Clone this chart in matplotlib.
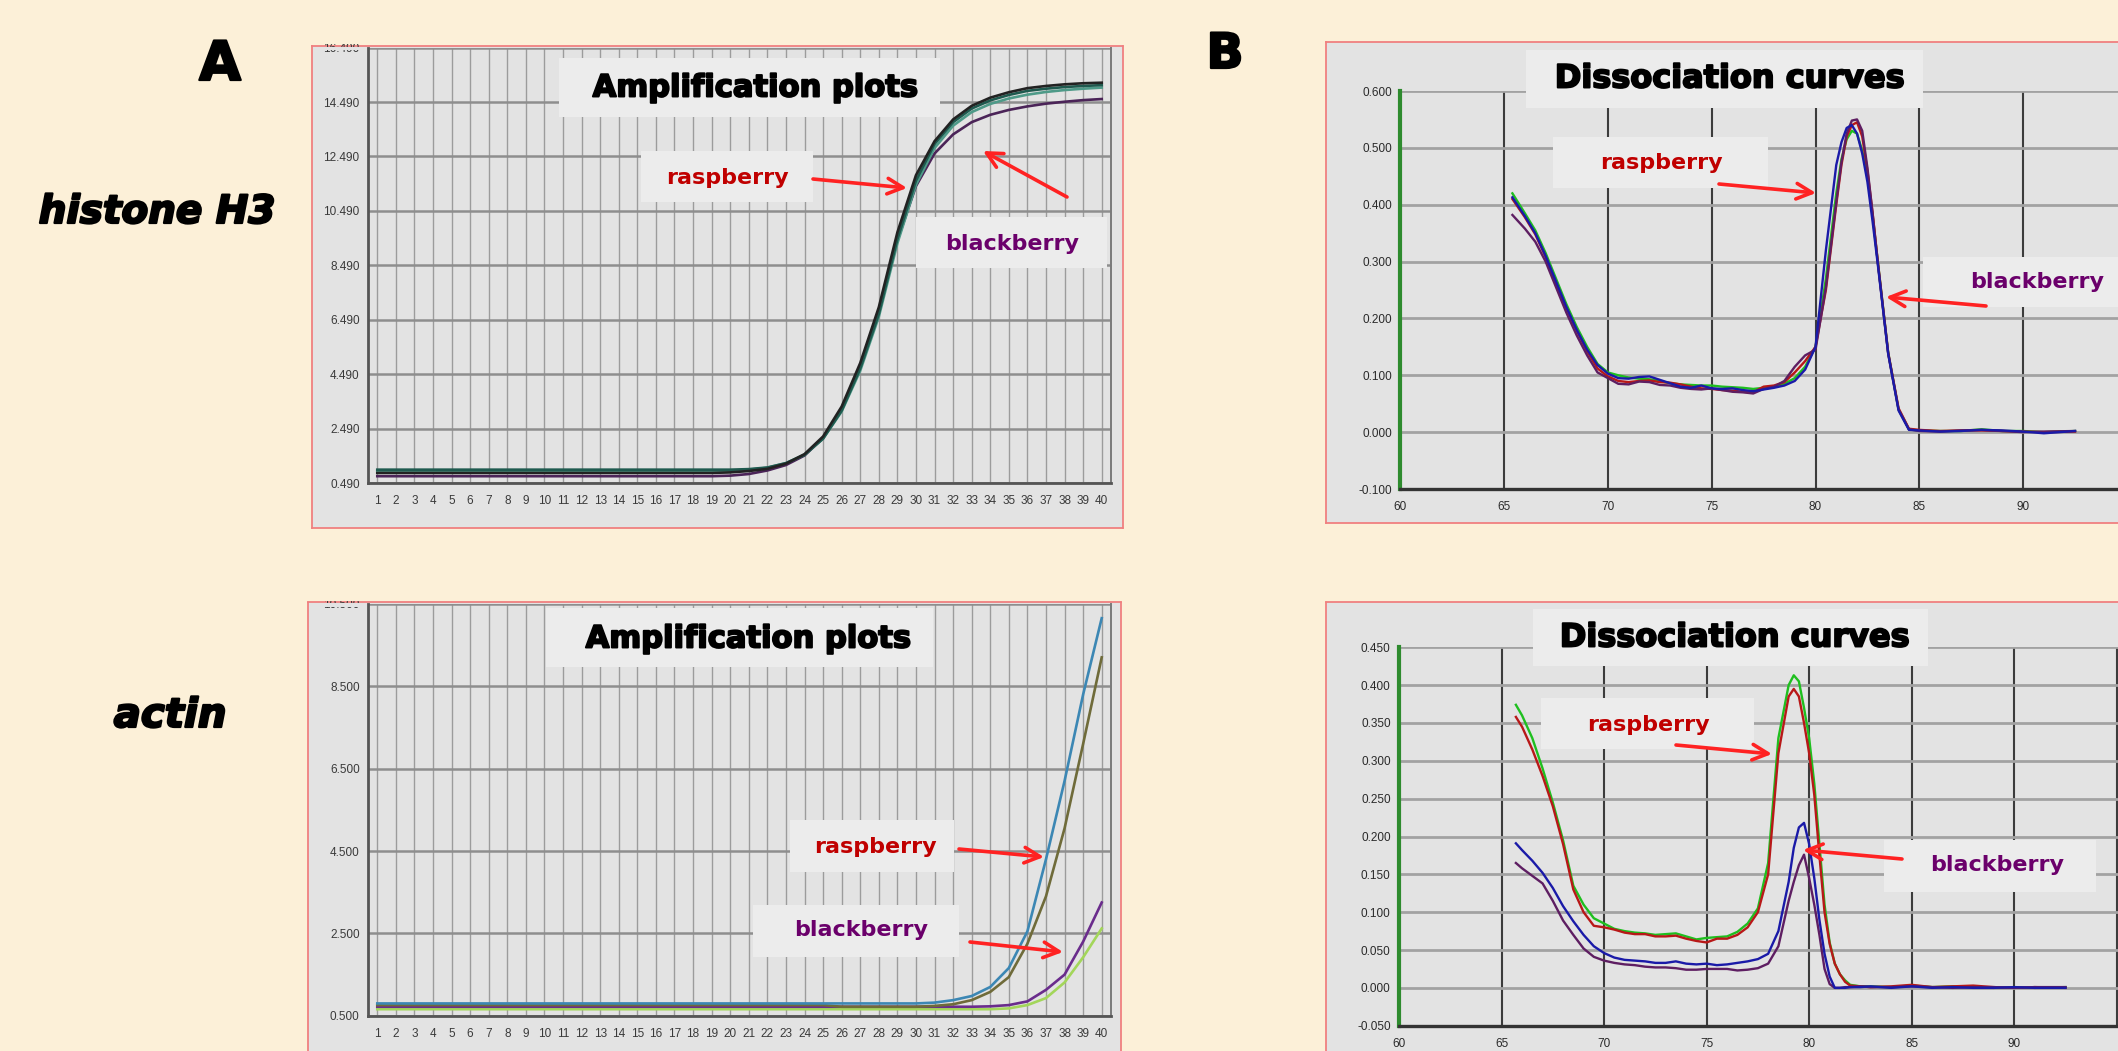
import matplotlib
matplotlib.use("Agg")
import matplotlib.pyplot as plt
from matplotlib.patches import Rectangle
import matplotlib.patheffects as pe

# ---------------- data ----------------
cycles = [1, 2, 3, 4, 5, 6, 7, 8, 9, 10, 11, 12, 13, 14, 15, 16, 17, 18, 19, 20,
          21, 22, 23, 24, 25, 26, 27, 28, 29, 30, 31, 32, 33, 34, 35, 36, 37, 38, 39, 40]

# histone H3 amplification (4 wells)
h3_black = [0.86, 0.86, 0.86, 0.86, 0.86, 0.86, 0.86, 0.86, 0.86, 0.86,
            0.86, 0.86, 0.86, 0.86, 0.86, 0.86, 0.86, 0.86, 0.86, 0.88,
            0.93, 1.01, 1.20, 1.55, 2.20, 3.30, 4.90, 6.95, 9.70, 11.80,
            13.05, 13.85, 14.35, 14.65, 14.85, 15.00, 15.08, 15.14, 15.18, 15.20]
h3_teal = [0.98, 0.98, 0.98, 0.98, 0.98, 0.98, 0.98, 0.98, 0.98, 0.98,
           0.98, 0.98, 0.98, 0.98, 0.98, 0.98, 0.98, 0.98, 0.98, 0.98,
           1.00, 1.06, 1.22, 1.52, 2.12, 3.15, 4.70, 6.70, 9.45, 11.60,
           12.95, 13.75, 14.25, 14.55, 14.75, 14.90, 14.98, 15.04, 15.08, 15.11]
h3_green = [0.93, 0.93, 0.93, 0.93, 0.93, 0.93, 0.93, 0.93, 0.93, 0.93,
            0.93, 0.93, 0.93, 0.93, 0.93, 0.93, 0.93, 0.93, 0.93, 0.94,
            0.98, 1.05, 1.22, 1.54, 2.12, 3.12, 4.62, 6.60, 9.30, 11.45,
            12.80, 13.62, 14.12, 14.42, 14.62, 14.76, 14.86, 14.93, 14.98, 15.02]
h3_purple = [0.74, 0.74, 0.74, 0.74, 0.74, 0.74, 0.74, 0.74, 0.74, 0.74,
             0.74, 0.74, 0.74, 0.74, 0.74, 0.74, 0.74, 0.74, 0.74, 0.76,
             0.82, 0.95, 1.15, 1.50, 2.15, 3.20, 4.75, 6.75, 9.40, 11.40,
             12.60, 13.30, 13.75, 14.02, 14.20, 14.33, 14.43, 14.50, 14.56, 14.60]
h3_amp_yticks = [0.49, 2.49, 4.49, 6.49, 8.49, 10.49, 12.49, 14.49, 16.49]

# actin amplification
act_blue = [0.80, 0.80, 0.80, 0.80, 0.80, 0.80, 0.80, 0.80, 0.80, 0.80,
            0.80, 0.80, 0.80, 0.80, 0.80, 0.80, 0.80, 0.80, 0.80, 0.80,
            0.80, 0.80, 0.80, 0.80, 0.80, 0.80, 0.80, 0.80, 0.80, 0.80,
            0.82, 0.88, 0.98, 1.20, 1.66, 2.55, 4.30, 6.20, 8.30, 10.15]
act_olive = [0.76, 0.76, 0.76, 0.76, 0.76, 0.76, 0.76, 0.76, 0.76, 0.76,
             0.76, 0.76, 0.76, 0.76, 0.76, 0.76, 0.76, 0.76, 0.76, 0.76,
             0.76, 0.76, 0.76, 0.76, 0.76, 0.72, 0.72, 0.72, 0.72, 0.72,
             0.74, 0.78, 0.88, 1.08, 1.44, 2.25, 3.40, 5.05, 7.10, 9.20]
act_purple = [0.72, 0.72, 0.72, 0.72, 0.72, 0.72, 0.72, 0.72, 0.72, 0.72,
              0.72, 0.72, 0.72, 0.72, 0.72, 0.72, 0.72, 0.72, 0.72, 0.72,
              0.72, 0.72, 0.72, 0.72, 0.72, 0.72, 0.72, 0.72, 0.72, 0.72,
              0.72, 0.72, 0.72, 0.73, 0.76, 0.85, 1.13, 1.50, 2.30, 3.25]
act_green = [0.66, 0.66, 0.66, 0.66, 0.66, 0.66, 0.66, 0.66, 0.66, 0.66,
             0.66, 0.66, 0.66, 0.66, 0.66, 0.66, 0.66, 0.66, 0.66, 0.66,
             0.66, 0.66, 0.66, 0.66, 0.66, 0.66, 0.66, 0.66, 0.66, 0.66,
             0.66, 0.66, 0.66, 0.66, 0.68, 0.76, 0.93, 1.31, 1.92, 2.62]
act_amp_yticks = [0.5, 2.5, 4.5, 6.5, 8.5, 10.5]

# histone H3 dissociation
h3_temps = [65.4, 66.0, 66.5, 67.0, 67.5, 68.0, 68.5, 69.0, 69.5, 70.0,
            70.5, 71.0, 71.5, 72.0, 72.5, 73.0, 73.5, 74.0, 74.5, 75.0,
            75.5, 76.0, 76.5, 77.0, 77.5, 78.0, 78.5, 79.0, 79.5, 80.0,
            80.5, 81.0, 81.25, 81.5, 81.75, 82.0, 82.25, 82.5, 82.75, 83.0,
            83.5, 84.0, 84.5, 85.0, 86.0, 87.0, 88.0, 89.0, 90.0, 91.0, 92.5]
h3_d_green = [0.420, 0.385, 0.355, 0.315, 0.270, 0.225, 0.185, 0.150, 0.120, 0.105,
              0.100, 0.096, 0.094, 0.093, 0.090, 0.086, 0.084, 0.083, 0.082, 0.082,
              0.080, 0.079, 0.078, 0.076, 0.078, 0.080, 0.085, 0.095, 0.115, 0.150,
              0.270, 0.420, 0.480, 0.515, 0.530, 0.525, 0.495, 0.450, 0.380, 0.300,
              0.140, 0.040, 0.005, 0.003, 0.002, 0.002, 0.005, 0.002, 0.002, 0.000, 0.002]
h3_d_red = [0.410, 0.378, 0.348, 0.308, 0.262, 0.218, 0.178, 0.142, 0.112, 0.098,
            0.090, 0.088, 0.090, 0.091, 0.088, 0.087, 0.084, 0.080, 0.077, 0.076,
            0.074, 0.073, 0.071, 0.070, 0.080, 0.082, 0.088, 0.105, 0.125, 0.150,
            0.250, 0.400, 0.470, 0.520, 0.540, 0.545, 0.520, 0.460, 0.385, 0.300,
            0.140, 0.042, 0.006, 0.004, 0.002, 0.003, 0.003, 0.002, 0.001, 0.000, 0.001]
h3_d_blue = [0.413, 0.380, 0.350, 0.310, 0.265, 0.220, 0.180, 0.145, 0.118, 0.103,
             0.095, 0.094, 0.097, 0.098, 0.092, 0.086, 0.080, 0.078, 0.082, 0.077,
             0.076, 0.077, 0.074, 0.072, 0.075, 0.078, 0.082, 0.090, 0.110, 0.150,
             0.320, 0.470, 0.510, 0.535, 0.540, 0.525, 0.490, 0.440, 0.370, 0.295,
             0.138, 0.038, 0.004, 0.003, 0.001, 0.002, 0.004, 0.003, 0.001, -0.002, 0.002]
h3_d_purple = [0.382, 0.358, 0.335, 0.300, 0.255, 0.210, 0.170, 0.135, 0.105, 0.095,
               0.085, 0.084, 0.089, 0.088, 0.083, 0.082, 0.078, 0.076, 0.075, 0.077,
               0.074, 0.071, 0.070, 0.068, 0.076, 0.080, 0.090, 0.115, 0.135, 0.145,
               0.255, 0.405, 0.475, 0.525, 0.548, 0.550, 0.530, 0.465, 0.385, 0.298,
               0.138, 0.040, 0.005, 0.002, 0.001, 0.003, 0.004, 0.002, 0.000, 0.001, 0.002]
h3_d_yticks = [-0.1, 0.0, 0.1, 0.2, 0.3, 0.4, 0.5, 0.6]

# actin dissociation
act_temps = [65.7, 66.0, 66.5, 67.0, 67.5, 68.0, 68.5, 69.0, 69.5, 70.0,
             70.5, 71.0, 71.5, 72.0, 72.5, 73.0, 73.5, 74.0, 74.5, 75.0,
             75.5, 76.0, 76.5, 77.0, 77.5, 78.0, 78.5, 79.0, 79.25, 79.5,
             79.75, 80.0, 80.25, 80.5, 80.75, 81.0, 81.25, 81.5, 81.75, 82.0,
             82.5, 83.0, 84.0, 85.0, 86.0, 87.0, 88.0, 89.0, 90.0, 91.0, 92.5]
act_d_green = [0.374, 0.360, 0.330, 0.290, 0.245, 0.195, 0.135, 0.110, 0.092, 0.085,
               0.078, 0.075, 0.073, 0.072, 0.070, 0.071, 0.072, 0.068, 0.064, 0.066,
               0.067, 0.068, 0.074, 0.085, 0.105, 0.165, 0.330, 0.400, 0.413, 0.405,
               0.370, 0.330, 0.270, 0.190, 0.110, 0.060, 0.032, 0.018, 0.010, 0.004,
               0.002, 0.002, 0.001, 0.003, 0.001, 0.002, 0.001, 0.000, 0.001, 0.000, 0.001]
act_d_red = [0.358, 0.345, 0.315, 0.280, 0.240, 0.190, 0.130, 0.100, 0.082, 0.080,
             0.077, 0.073, 0.071, 0.071, 0.068, 0.068, 0.069, 0.065, 0.062, 0.060,
             0.065, 0.065, 0.070, 0.080, 0.100, 0.150, 0.310, 0.385, 0.395, 0.385,
             0.350, 0.310, 0.255, 0.175, 0.100, 0.058, 0.032, 0.018, 0.008, 0.003,
             0.002, 0.001, 0.002, 0.004, 0.001, 0.002, 0.003, 0.001, 0.000, 0.001, 0.000]
act_d_blue = [0.191, 0.182, 0.168, 0.152, 0.132, 0.108, 0.088, 0.070, 0.055, 0.046,
              0.040, 0.037, 0.036, 0.035, 0.033, 0.033, 0.035, 0.032, 0.031, 0.032,
              0.030, 0.031, 0.033, 0.035, 0.038, 0.045, 0.075, 0.140, 0.185, 0.212,
              0.218, 0.190, 0.145, 0.090, 0.045, 0.015, 0.000, 0.000, 0.000, 0.001,
              0.001, 0.002, 0.000, 0.002, 0.000, 0.001, 0.000, 0.000, 0.001, 0.000, 0.000]
act_d_purple = [0.165, 0.158, 0.148, 0.138, 0.115, 0.089, 0.070, 0.052, 0.041, 0.036,
                0.033, 0.031, 0.030, 0.028, 0.027, 0.027, 0.026, 0.024, 0.024, 0.025,
                0.025, 0.025, 0.023, 0.024, 0.026, 0.032, 0.055, 0.115, 0.140, 0.162,
                0.176, 0.145, 0.110, 0.070, 0.025, 0.005, 0.000, 0.000, 0.001, 0.001,
                0.002, 0.001, 0.001, 0.002, 0.001, 0.000, 0.001, 0.001, 0.000, 0.001, 0.001]
act_d_yticks = [-0.05, 0.0, 0.05, 0.1, 0.15, 0.2, 0.25, 0.3, 0.35, 0.4, 0.45]
melt_xticks = [60, 65, 70, 75, 80, 85, 90]

# ---------------- styling ----------------
W, H, DPI = 2118, 1051, 100
BG = "#FCF0D8"
PANEL = "#E3E3E3"
BOX = "#ECECEC"
ARROW = "#FF2222"
RASP = "#C00000"
BLACKB = "#6B006B"
TICKFONT = ["Liberation Sans Narrow", "Liberation Sans", "DejaVu Sans"]

fig = plt.figure(figsize=(W / DPI, H / DPI), dpi=DPI, facecolor=BG)


def rect(x0, y0, x1, y1):
    return [x0 / W, 1 - y1 / H, (x1 - x0) / W, (y1 - y0) / H]


def pt(x, y):
    return (x / W, 1 - y / H)


def fig_rect(x0, y0, x1, y1, color, z=5):
    fig.add_artist(Rectangle(pt(x0, y1), (x1 - x0) / W, (y1 - y0) / H,
                             transform=fig.transFigure, facecolor=color,
                             edgecolor="none", zorder=z))


def frame(x0, y0, x1, y1):
    fa = fig.add_axes(rect(x0, y0, x1, y1), zorder=0)
    fa.set_facecolor(PANEL)
    fa.set_xticks([])
    fa.set_yticks([])
    for s in fa.spines.values():
        s.set_color("#F08080")
        s.set_linestyle((0, (1, 1)))
        s.set_linewidth(1.3)
    # cover anything poking above the frame
    fig_rect(x0 - 5, y0 - 40, x1 + 5, y0 - 1.5, BG)
    return fa


def box(ax, x0, y0, x1, y1):
    ax.add_patch(Rectangle(pt(x0, y1), (x1 - x0) / W, (y1 - y0) / H,
                           transform=fig.transFigure, facecolor=BOX,
                           edgecolor="none", zorder=1, clip_on=False))


def label(ax, txt, x, y, color, size=16):
    ax.text(*pt(x, y), txt, transform=fig.transFigure, color=color,
            fontsize=size, fontweight="bold", ha="center", va="center",
            zorder=6, family="DejaVu Sans")


def arrow(ax, x0, y0, x1, y1):
    ax.annotate("", xy=pt(x1, y1), xytext=pt(x0, y0),
                xycoords="figure fraction", textcoords="figure fraction",
                arrowprops=dict(arrowstyle="->", color=ARROW, lw=2.6,
                                mutation_scale=28, shrinkA=0, shrinkB=0),
                zorder=6)


def title(ax, txt, x, y, size=22):
    ax.text(*pt(x, y), txt, transform=fig.transFigure, color="black",
            fontsize=size, fontweight="bold", ha="center", va="center",
            zorder=6, family="DejaVu Sans",
            path_effects=[pe.withStroke(linewidth=1.4, foreground="black")])


def amp_axes(x0, y0, x1, y1, ylim, yticks):
    ax = fig.add_axes(rect(x0, y0, x1, y1), zorder=1)
    ax.set_facecolor("none")
    ax.set_axisbelow(True)
    ax.set_xlim(0.5, 40.5)
    ax.set_ylim(*ylim)
    ax.set_xticks(cycles)
    ax.set_xticklabels([str(c) for c in cycles], family=TICKFONT)
    ax.set_yticks(yticks)
    ax.set_yticklabels(["%.3f" % v for v in yticks], family=TICKFONT)
    ax.tick_params(length=0, labelsize=8.5, colors="#3A3A3A")
    ax.tick_params(axis="x", pad=9)
    ax.tick_params(axis="y", pad=6)
    ax.grid(axis="x", color="#9C9C9C", lw=1.0)
    ax.grid(axis="y", color="#8E8E8E", lw=1.8)
    ax.spines["top"].set_visible(False)
    ax.spines["right"].set_color("#7A7A7A")
    ax.spines["right"].set_linewidth(1.4)
    for s in ("left", "bottom"):
        ax.spines[s].set_color("#555555")
        ax.spines[s].set_linewidth(2.0)
    return ax


def melt_axes(x0, y0, x1, y1, xlim, ylim, yticks):
    ax = fig.add_axes(rect(x0, y0, x1, y1), zorder=1)
    ax.set_facecolor("none")
    ax.set_axisbelow(True)
    ax.set_xlim(*xlim)
    ax.set_ylim(*ylim)
    ax.set_xticks(melt_xticks)
    ax.set_xticklabels([str(v) for v in melt_xticks], family=TICKFONT)
    ax.set_yticks(yticks)
    ax.set_yticklabels(["%.3f" % v for v in yticks], family=TICKFONT)
    ax.tick_params(length=0, labelsize=8.5, colors="#2A2A2A")
    ax.tick_params(axis="x", pad=9)
    ax.tick_params(axis="y", pad=6)
    ax.grid(axis="x", color="#3C3C3C", lw=1.5)
    ax.grid(axis="y", color="#A2A2A2", lw=2.0)
    ax.spines["top"].set_visible(False)
    ax.spines["right"].set_visible(False)
    ax.spines["left"].set_color("#2E8B2E")
    ax.spines["left"].set_linewidth(3.0)
    ax.spines["bottom"].set_color("#333333")
    ax.spines["bottom"].set_linewidth(2.4)
    return ax


# ---------------- panel A top: histone H3 amplification ----------------
frame(312, 45.7, 1123, 527.5)
ax1 = amp_axes(368, 47.6, 1111, 483, (0.49, 16.49), h3_amp_yticks)
ax1.plot(cycles, h3_purple, color="#4B2458", lw=1.9, zorder=2)
ax1.plot(cycles, h3_green, color="#4E9A88", lw=1.9, zorder=2)
ax1.plot(cycles, h3_teal, color="#1F5A4F", lw=1.9, zorder=2)
ax1.plot(cycles, h3_black, color="#222222", lw=1.9, zorder=2)
box(ax1, 559, 58, 940, 117)
title(ax1, "Amplification plots", 755, 88)
box(ax1, 641, 151, 813, 202)
label(ax1, "raspberry", 727, 178, RASP)
arrow(ax1, 813, 179, 907, 188)
box(ax1, 916, 217, 1107, 268)
label(ax1, "blackberry", 1012, 244, BLACKB)
arrow(ax1, 1067, 197, 983, 151)
# top tick label is partly hidden by the frame edge in the original
fig_rect(316, 46.5, 364, 49.5, PANEL)

# ---------------- panel A bottom: actin amplification ----------------
frame(308, 602.3, 1121, 1070)
ax2 = amp_axes(368, 603.8, 1111, 1015.8, (0.5, 10.5), act_amp_yticks)
ax2.plot(cycles, act_green, color="#A3D65A", lw=1.9, zorder=2)
ax2.plot(cycles, act_purple, color="#6A2C8C", lw=1.9, zorder=2)
ax2.plot(cycles, act_olive, color="#6F6B3A", lw=1.9, zorder=2)
ax2.plot(cycles, act_blue, color="#3C87B4", lw=1.9, zorder=2)
box(ax2, 546, 608, 933, 667)
title(ax2, "Amplification plots", 748, 639)
box(ax2, 790, 820, 954, 872)
label(ax2, "raspberry", 875, 847, RASP)
arrow(ax2, 959, 849, 1044, 857)
box(ax2, 753, 905, 959, 957)
label(ax2, "blackberry", 861, 930, BLACKB)
arrow(ax2, 970, 942, 1063, 952)
fig_rect(312, 603.0, 364, 606.5, PANEL)

# ---------------- panel B top: histone H3 dissociation ----------------
frame(1326, 42.3, 2140, 523)
ax3 = melt_axes(1400.3, 91, 2118, 489, (60, 94.57), (-0.1, 0.6), h3_d_yticks)
ax3.plot(h3_temps, h3_d_green, color="#1FBF1F", lw=1.7, zorder=2)
ax3.plot(h3_temps, h3_d_red, color="#B81818", lw=1.7, zorder=2)
ax3.plot(h3_temps, h3_d_purple, color="#5E1E62", lw=1.7, zorder=2)
ax3.plot(h3_temps, h3_d_blue, color="#1A1AA8", lw=1.7, zorder=2)
box(ax3, 1526, 50, 1923, 108)
title(ax3, "Dissociation curves", 1730, 79, size=23)
box(ax3, 1553, 137, 1768, 188)
label(ax3, "raspberry", 1661, 163, RASP)
arrow(ax3, 1719, 184, 1816, 193)
box(ax3, 1923, 257, 2125, 307)
label(ax3, "blackberry", 2037, 282, BLACKB)
arrow(ax3, 1986, 306, 1886, 297)

# ---------------- panel B bottom: actin dissociation ----------------
frame(1326, 602.3, 2140, 1070)
ax4 = melt_axes(1399, 647.3, 2118, 1025.7, (60, 95.06), (-0.05, 0.45), act_d_yticks)
ax4.grid(axis="x", color="#3C3C3C", lw=1.5)
ax4.axvline(95, color="#3C3C3C", lw=1.5, zorder=0.5)
ax4.plot(act_temps, act_d_green, color="#1FBF1F", lw=1.7, zorder=2)
ax4.plot(act_temps, act_d_red, color="#B81818", lw=1.7, zorder=2)
ax4.plot(act_temps, act_d_purple, color="#5E1E62", lw=1.7, zorder=2)
ax4.plot(act_temps, act_d_blue, color="#1A1AA8", lw=1.7, zorder=2)
box(ax4, 1533, 609, 1928, 666)
title(ax4, "Dissociation curves", 1735, 638, size=23)
box(ax4, 1541, 698, 1754, 749)
label(ax4, "raspberry", 1648, 725, RASP)
arrow(ax4, 1676, 745, 1772, 754)
box(ax4, 1884, 840, 2096, 892)
label(ax4, "blackberry", 1997, 865, BLACKB)
arrow(ax4, 1902, 859, 1803, 850)

# ---------------- panel letters and gene names ----------------
heavy = [pe.withStroke(linewidth=1.6, foreground="black")]
fig.text(*pt(220, 65), "A", fontsize=39, fontweight="bold", ha="center",
         va="center", family="DejaVu Sans", path_effects=heavy, zorder=7)
fig.text(*pt(1225, 54), "B", fontsize=35, fontweight="bold", ha="center",
         va="center", family="DejaVu Sans", path_effects=heavy, zorder=7)
fig.text(*pt(157, 212), "histone H3", fontsize=28, fontweight="bold",
         fontstyle="italic", ha="center", va="center", family="DejaVu Sans",
         path_effects=heavy, zorder=7)
fig.text(*pt(170, 716), "actin", fontsize=29, fontweight="bold",
         fontstyle="italic", ha="center", va="center", family="DejaVu Sans",
         path_effects=heavy, zorder=7)

fig.savefig("out.png", dpi=DPI, facecolor=BG)
